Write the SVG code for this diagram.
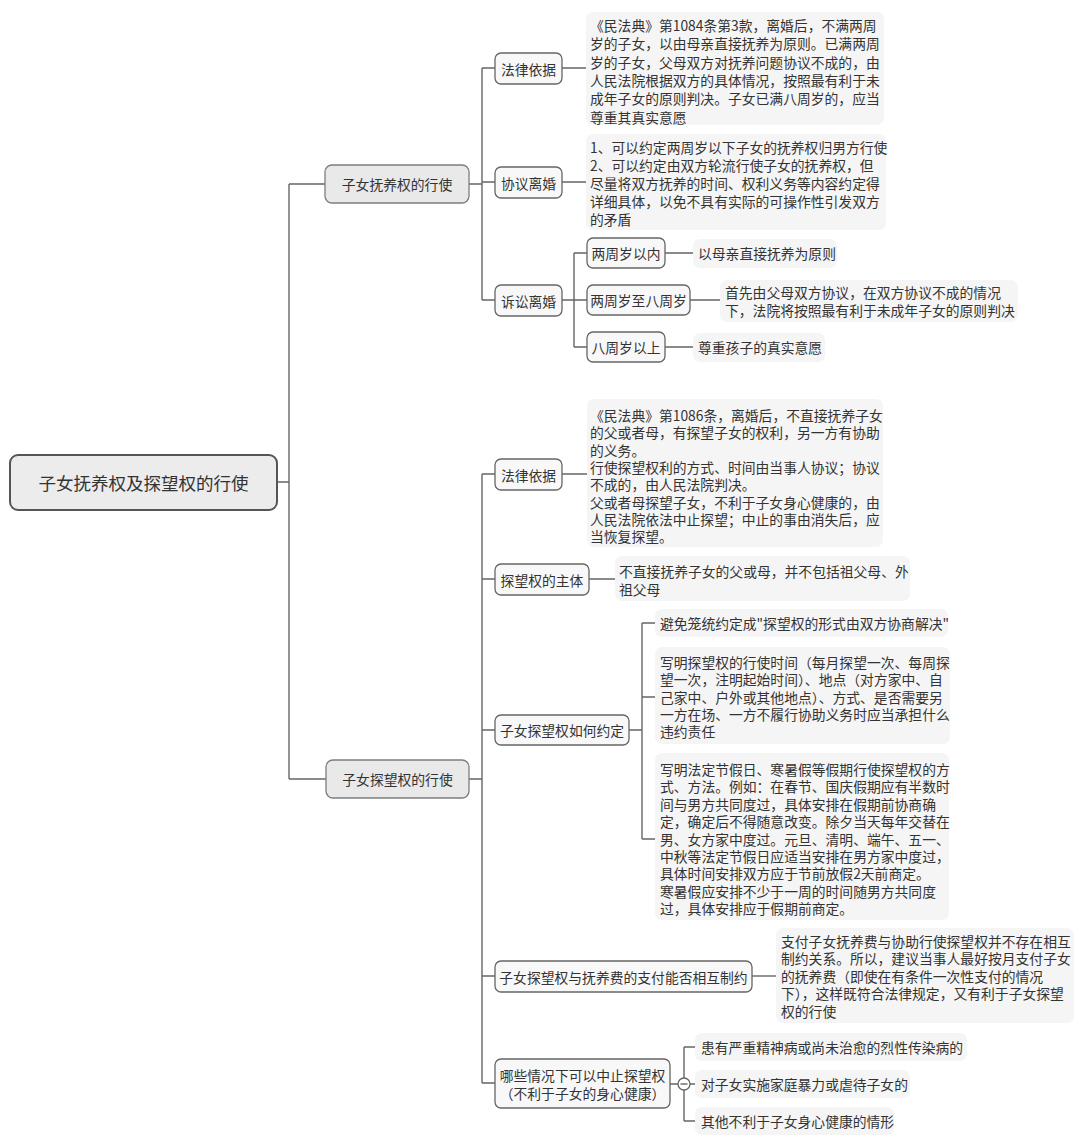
<svg xmlns="http://www.w3.org/2000/svg" width="1080" height="1146" viewBox="0 0 1080 1146">
<style>
text{font-family:"Noto Sans CJK SC","Noto Sans",sans-serif;font-size:13.8px;fill:#333;dominant-baseline:central}
.c{text-anchor:middle}
.n rect{fill:#f8f8f8;stroke:#666;stroke-width:1.3}
.l1 rect{fill:#e9e9e9;stroke:#7d7d7d;stroke-width:1.3}
.root rect{fill:#ececec;stroke:#555;stroke-width:2}
.root text{font-size:17.5px}
.leaf rect{fill:#f5f5f5}
#conn path{fill:none;stroke:#666;stroke-width:1.4}
#conn circle{fill:#fff;stroke:#666;stroke-width:1.3}
</style>
<rect width="1080" height="1146" fill="#fff"/>
<g id="conn">
<path d="M277 482H289M289 184V779M289 184H325M289 779H326"/>
<path d="M469 184H482M482 68V300M482 68H495M482 182H495M482 300H495"/>
<path d="M562 68H586M562 182H586"/>
<path d="M562 300H574M574 253V347M574 253H587M574 300H587M574 347H587"/>
<path d="M665 253H693M690 300H720M665 347H693"/>
<path d="M469 779H482M482 474V1083M482 474H495M482 579H495M482 730H495M482 976H495M482 1083H495"/>
<path d="M562 474H587M589 579H615"/>
<path d="M629 730H642M642 623V839M642 623H655M642 697H655M642 839H655"/>
<path d="M752 976H776"/>
<path d="M670 1084H678M684 1047V1121M684 1047H695M684 1084H695M684 1121H695"/>
<circle cx="684" cy="1084" r="6"/>
<path d="M680.5 1084H687.5"/>
</g>
<g id="root" class="root"><rect x="10" y="455" width="267" height="55" rx="8"/><text class="c" x="143.5" y="482.5">子女抚养权及探望权的行使</text></g>
<g id="n-fuyang" class="l1"><rect x="325" y="165" width="144" height="38" rx="7"/><text class="c" x="397" y="184">子女抚养权的行使</text></g>
<g id="n-tanwang" class="l1"><rect x="326" y="760" width="143" height="38" rx="7"/><text class="c" x="397.5" y="779">子女探望权的行使</text></g>
<g id="n-fy-law" class="n"><rect x="495" y="53" width="67" height="31" rx="6"/><text class="c" x="528.5" y="68.5">法律依据</text></g>
<g id="n-fy-xieyi" class="n"><rect x="495" y="167" width="67" height="31" rx="6"/><text class="c" x="528.5" y="182.5">协议离婚</text></g>
<g id="n-fy-susong" class="n"><rect x="495" y="285" width="67" height="31" rx="6"/><text class="c" x="528.5" y="300.5">诉讼离婚</text></g>
<g id="n-age1" class="n"><rect x="587" y="238" width="78" height="30" rx="6"/><text class="c" x="626" y="253">两周岁以内</text></g>
<g id="n-age2" class="n"><rect x="587" y="285" width="103" height="30" rx="6"/><text class="c" x="638.5" y="300">两周岁至八周岁</text></g>
<g id="n-age3" class="n"><rect x="587" y="332" width="78" height="30" rx="6"/><text class="c" x="626" y="347">八周岁以上</text></g>
<g id="leaf-fy-law" class="leaf"><rect x="586" y="12" width="298" height="113" rx="7"/>
<text x="590" y="25"><tspan x="590" y="25">《民法典》第1084条第3款，离婚后，不满两周</tspan><tspan x="590" y="43.3">岁的子女，以由母亲直接抚养为原则。已满两周</tspan><tspan x="590" y="61.6">岁的子女，父母双方对抚养问题协议不成的，由</tspan><tspan x="590" y="79.9">人民法院根据双方的具体情况，按照最有利于未</tspan><tspan x="590" y="98.2">成年子女的原则判决。子女已满八周岁的，应当</tspan><tspan x="590" y="116.5">尊重其真实意愿</tspan></text></g>
<g id="leaf-fy-xieyi" class="leaf"><rect x="586" y="134" width="300" height="96" rx="7"/>
<text x="590" y="147"><tspan x="590" y="147">1、可以约定两周岁以下子女的抚养权归男方行使</tspan><tspan x="590" y="165">2、可以约定由双方轮流行使子女的抚养权，但</tspan><tspan x="590" y="183">尽量将双方抚养的时间、权利义务等内容约定得</tspan><tspan x="590" y="201">详细具体，以免不具有实际的可操作性引发双方</tspan><tspan x="590" y="219">的矛盾</tspan></text></g>
<g id="leaf-age1" class="leaf"><rect x="693" y="239" width="144" height="29" rx="7"/><text x="698" y="253">以母亲直接抚养为原则</text></g>
<g id="leaf-age2" class="leaf"><rect x="720" y="280" width="298" height="42" rx="7"/><text x="725" y="292"><tspan x="725" y="292">首先由父母双方协议，在双方协议不成的情况</tspan><tspan x="725" y="310">下，法院将按照最有利于未成年子女的原则判决</tspan></text></g>
<g id="leaf-age3" class="leaf"><rect x="693" y="333" width="132" height="29" rx="7"/><text x="698" y="347">尊重孩子的真实意愿</text></g>
<g id="n-tw-law" class="n"><rect x="495" y="459" width="67" height="31" rx="6"/><text class="c" x="528.5" y="474.5">法律依据</text></g>
<g id="n-tw-zhuti" class="n"><rect x="495" y="564" width="94" height="31" rx="6"/><text class="c" x="542" y="579.5">探望权的主体</text></g>
<g id="n-tw-yueding" class="n"><rect x="495" y="715" width="134" height="30" rx="6"/><text class="c" x="562" y="730">子女探望权如何约定</text></g>
<g id="n-tw-zhiyue" class="n"><rect x="495" y="961" width="257" height="31" rx="6"/><text class="c" x="623.5" y="976.5">子女探望权与抚养费的支付能否相互制约</text></g>
<g id="n-tw-zhongzhi" class="n"><rect x="495" y="1059" width="175" height="49" rx="6"/><text class="c" x="582.5" y="1075"><tspan x="582.5" y="1075">哪些情况下可以中止探望权</tspan><tspan x="582.5" y="1093">（不利于子女的身心健康）</tspan></text></g>
<g id="leaf-tw-law" class="leaf"><rect x="587" y="399" width="296" height="148" rx="7"/>
<text x="590" y="415"><tspan x="590" y="415">《民法典》第1086条，离婚后，不直接抚养子女</tspan><tspan x="590" y="432.3">的父或者母，有探望子女的权利，另一方有协助</tspan><tspan x="590" y="449.6">的义务。</tspan><tspan x="590" y="466.9">行使探望权利的方式、时间由当事人协议；协议</tspan><tspan x="590" y="484.2">不成的，由人民法院判决。</tspan><tspan x="590" y="501.5">父或者母探望子女，不利于子女身心健康的，由</tspan><tspan x="590" y="518.8">人民法院依法中止探望；中止的事由消失后，应</tspan><tspan x="590" y="536.1">当恢复探望。</tspan></text></g>
<g id="leaf-tw-zhuti" class="leaf"><rect x="615" y="556" width="295" height="45" rx="7"/><text x="619" y="571"><tspan x="619" y="571">不直接抚养子女的父或母，并不包括祖父母、外</tspan><tspan x="619" y="588.5">祖父母</tspan></text></g>
<g id="leaf-yd1" class="leaf"><rect x="655" y="609" width="293" height="28" rx="7"/><text x="660" y="623">避免笼统约定成&quot;探望权的形式由双方协商解决&quot;</text></g>
<g id="leaf-yd2" class="leaf"><rect x="655" y="647" width="295" height="97" rx="7"/>
<text x="660" y="662"><tspan x="660" y="662">写明探望权的行使时间（每月探望一次、每周探</tspan><tspan x="660" y="679.3">望一次，注明起始时间）、地点（对方家中、自</tspan><tspan x="660" y="696.6">己家中、户外或其他地点）、方式、是否需要另</tspan><tspan x="660" y="713.9">一方在场、一方不履行协助义务时应当承担什么</tspan><tspan x="660" y="731.2">违约责任</tspan></text></g>
<g id="leaf-yd3" class="leaf"><rect x="655" y="753" width="294" height="167" rx="7"/>
<text x="660" y="769"><tspan x="660" y="769">写明法定节假日、寒暑假等假期行使探望权的方</tspan><tspan x="660" y="786.4">式、方法。例如：在春节、国庆假期应有半数时</tspan><tspan x="660" y="803.8">间与男方共同度过，具体安排在假期前协商确</tspan><tspan x="660" y="821.2">定，确定后不得随意改变。除夕当天每年交替在</tspan><tspan x="660" y="838.6">男、女方家中度过。元旦、清明、端午、五一、</tspan><tspan x="660" y="856">中秋等法定节假日应适当安排在男方家中度过，</tspan><tspan x="660" y="873.4">具体时间安排双方应于节前放假2天前商定。</tspan><tspan x="660" y="890.8">寒暑假应安排不少于一周的时间随男方共同度</tspan><tspan x="660" y="908.2">过，具体安排应于假期前商定。</tspan></text></g>
<g id="leaf-zhiyue" class="leaf"><rect x="776" y="928" width="298" height="95" rx="7"/>
<text x="781" y="941"><tspan x="781" y="941">支付子女抚养费与协助行使探望权并不存在相互</tspan><tspan x="781" y="958.4">制约关系。所以，建议当事人最好按月支付子女</tspan><tspan x="781" y="975.8">的抚养费（即使在有条件一次性支付的情况</tspan><tspan x="781" y="993.2">下），这样既符合法律规定，又有利于子女探望</tspan><tspan x="781" y="1010.6">权的行使</tspan></text></g>
<g id="leaf-zz1" class="leaf"><rect x="695" y="1033" width="272" height="28" rx="7"/><text x="701" y="1047">患有严重精神病或尚未治愈的烈性传染病的</text></g>
<g id="leaf-zz2" class="leaf"><rect x="695" y="1070" width="215" height="28" rx="7"/><text x="701" y="1084">对子女实施家庭暴力或虐待子女的</text></g>
<g id="leaf-zz3" class="leaf"><rect x="695" y="1107" width="199" height="28" rx="7"/><text x="701" y="1121">其他不利于子女身心健康的情形</text></g>
</svg>
